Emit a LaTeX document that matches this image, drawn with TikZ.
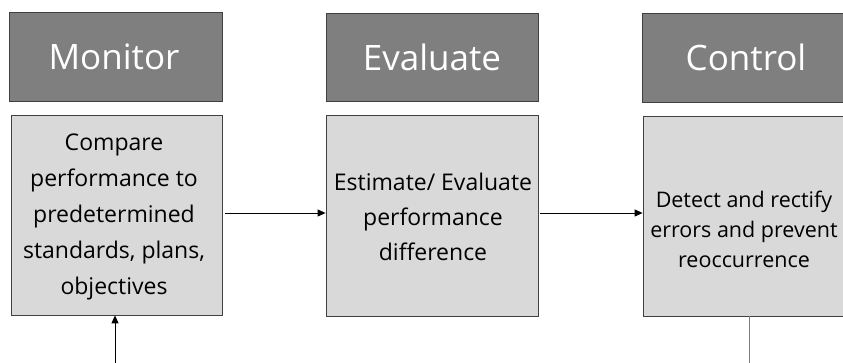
\documentclass[tikz,border=0pt]{standalone}
\usepackage{fontspec}
\setmainfont{Open Sans}
\usetikzlibrary{arrows.meta}
\definecolor{hdr}{HTML}{7F7F7F}
\definecolor{bodyfill}{HTML}{D9D9D9}
\definecolor{edge}{HTML}{404040}
\tikzset{
  hdrbox/.style={draw=edge, line width=0.8pt, fill=hdr},
  bodybox/.style={draw=edge, line width=0.8pt, fill=bodyfill},
  hdrtext/.style={text=white, font=\fontsize{35}{40}\selectfont, inner sep=0pt},
  bodytext/.style={text=black, align=center, inner sep=0pt},
  conn/.style={line width=0.9pt, -{Triangle[length=8pt,width=7pt]}},
}
\begin{document}
\begin{tikzpicture}[x=1pt,y=-1pt]
\useasboundingbox (0,0) rectangle (843,363);
\clip (0,0) rectangle (843,363);
% headers
\path[hdrbox] (9,12) rectangle (222,101);
\path[hdrbox] (326,13) rectangle (538,101);
\path[hdrbox] (642,13) rectangle (855,102);
\node[hdrtext] (hmon) at (114,56.5) {Monitor};
\node[hdrtext] (heval) at (432,57) {Evaluate};
\node[hdrtext] (hctrl) at (746,57.5) {Control};
% bodies
\node[bodybox, minimum width=211pt, minimum height=200pt, inner sep=0pt] (bmon) at (116.5,215) {};
\node[bodybox, minimum width=212pt, minimum height=201pt, inner sep=0pt] (beval) at (432,215.5) {};
\node[bodybox, minimum width=212pt, minimum height=200pt, inner sep=0pt] (bctrl) at (749,216) {};
\node[bodytext, font=\fontsize{23}{36}\selectfont] (tmon) at (114,217) {Compare\\performance to\\predetermined\\standards, plans,\\objectives};
\node[bodytext, font=\fontsize{23}{35}\selectfont] (teval) at (433,217) {Estimate/ Evaluate\\performance\\difference};
\node[bodytext, font=\fontsize{21.5}{30}\selectfont] (tctrl) at (744,229) {Detect and rectify\\errors and prevent\\reoccurrence};
% connectors
\coordinate (m1) at ([xshift=3pt]bmon.east |- 0,213);
\draw[conn] (m1) -- (beval.west |- m1);
\coordinate (e1) at ([xshift=2pt]beval.east |- 0,213);
\draw[conn] (e1) -- (bctrl.west |- e1);
\coordinate (upstart) at (115,380);
\draw[conn] (upstart) -- (upstart |- bmon.south);
\coordinate (downend) at (749,380);
\draw[line width=0.9pt, draw=hdr] (bctrl.south -| downend) -- (downend);
\end{tikzpicture}
\end{document}
